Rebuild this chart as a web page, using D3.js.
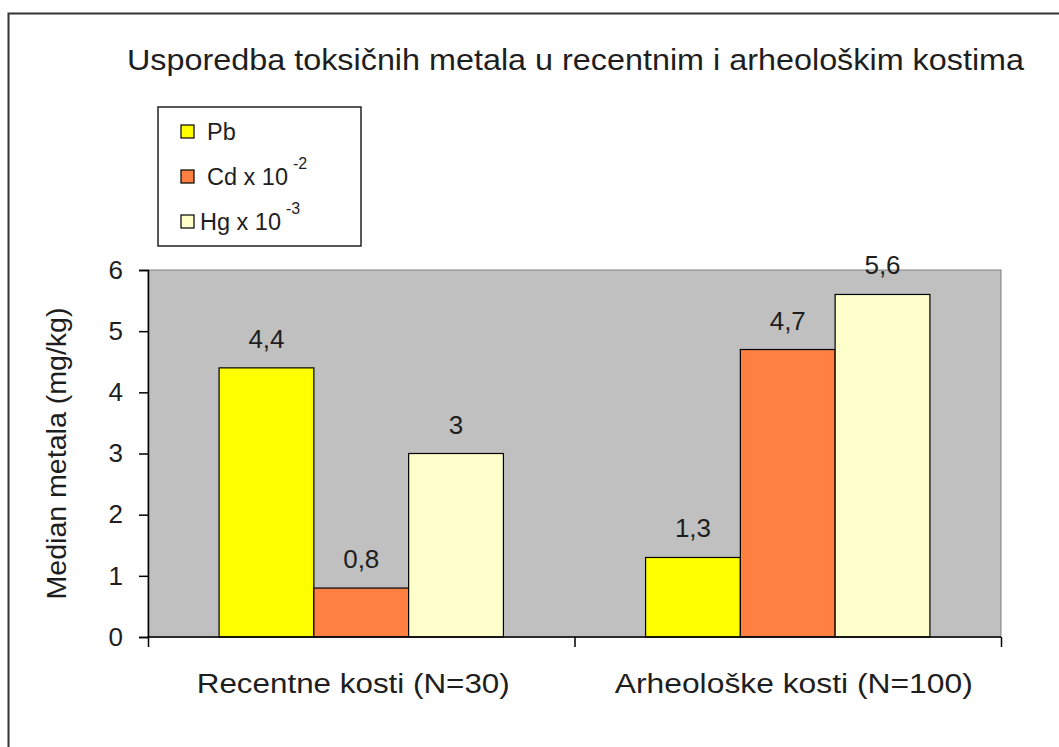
<!DOCTYPE html>
<head>
  <meta charset='utf-8'>
  <style>
      body { margin: 0; background: white; }
      text { font-family: 'Liberation Sans', Arial, sans-serif; fill: #1e1e1e; }
      .axis path, .axis line { stroke: black; stroke-width: 1.5px; }
      .axis text { font-size: 26px; fill: #1e1e1e; }
      .bar { stroke: black; stroke-width: 1.2px; }
  </style>
</head>
<body>
<script src='https://cdnjs.cloudflare.com/ajax/libs/d3/7.8.5/d3.min.js'></script>
<script>
    var
        W = 1059,
        H = 747,
        margin = {top: 270, right: 58, bottom: 110, left: 148};

    var categories = ['Recentne kosti (N=30)', 'Arheološke kosti (N=100)'],
        categoryWidths = [313, 358],
        series = ['Pb', 'Cd', 'Hg'],
        seriesLabels = [['Pb', ''], ['Cd x 10', '-2'], ['Hg x 10', '-3']],
        pb = [4.4, 1.3],
        cd = [0.8, 4.7],
        hg = [3, 5.6],
        yTicks = [0, 1, 2, 3, 4, 5, 6],
        colors = ['#ffff00', '#ff8040', '#ffffcc'];

    var values = [pb, cd, hg];

    var
        w = W - margin.left - margin.right,
        h = H - margin.top - margin.bottom,
        x0 = d3.scaleBand().domain(categories).range([0, w]),
        // gap width 150%: 3 bars + 1.5 bar gap per group
        x1 = d3.scaleBand().domain(series).range([x0.bandwidth() * 0.75 / 4.5, x0.bandwidth() * (1 - 0.75 / 4.5)]),
        y = d3.scaleLinear().domain([0, 6]).range([h, 0]);

    var svg = d3.select('body').append('svg')
        .attr('width', W)
        .attr('height', H);

    // outer frame, only top and left edges show
    svg.append('path')
        .attr('d', 'M8.5,' + H + 'V13.5H' + W)
        .attr('fill', 'none')
        .attr('stroke', '#333')
        .attr('stroke-width', 2);

    svg.append('text')
        .attr('x', 127)
        .attr('y', 70)
        .attr('textLength', 897)
        .attr('lengthAdjust', 'spacingAndGlyphs')
        .style('font-size', '30px')
        .text('Usporedba toksičnih metala u recentnim i arheološkim kostima');

    var g = svg.append('g')
        .attr('transform', 'translate(' + margin.left + ',' + margin.top + ')');

    g.append('rect')
        .attr('width', w)
        .attr('height', h)
        .attr('fill', '#c0c0c0')
        .attr('stroke', '#808080')
        .attr('stroke-width', 1);

    var groups = g.selectAll('.group')
        .data(categories)
        .enter().append('g')
        .attr('class', 'group')
        .attr('transform', function(d) { return 'translate(' + x0(d) + ',0)'; });

    groups.selectAll('rect')
        .data(function(d, i) {
            return series.map(function(s, j) { return {s: s, v: values[j][i], c: colors[j]}; });
        })
        .enter().append('rect')
        .attr('class', 'bar')
        .attr('x', function(d) { return x1(d.s); })
        .attr('width', x1.bandwidth())
        .attr('y', function(d) { return y(d.v); })
        .attr('height', function(d) { return h - y(d.v); })
        .attr('fill', function(d) { return d.c; });

    groups.selectAll('.val')
        .data(function(d, i) {
            return series.map(function(s, j) { return {s: s, v: values[j][i]}; });
        })
        .enter().append('text')
        .attr('class', 'val')
        .attr('x', function(d) { return x1(d.s) + x1.bandwidth() / 2; })
        .attr('y', function(d) { return y(d.v) - 20; })
        .attr('text-anchor', 'middle')
        .style('font-size', '26px')
        .text(function(d) { return String(d.v).replace('.', ','); });

    g.append('g')
        .attr('class', 'axis')
        .call(d3.axisLeft(y).tickValues(yTicks).tickSize(9).tickPadding(16).tickFormat(d3.format('d')));

    var xAxis = g.append('g')
        .attr('class', 'axis')
        .attr('transform', 'translate(0,' + h + ')')
        .call(d3.axisBottom(d3.scaleLinear().domain([0, 2]).range([0, w])).tickValues([0, 1, 2]).tickSize(10).tickFormat(''));
    xAxis.select('.domain').attr('d', 'M0,0H' + w);

    g.selectAll('.cat')
        .data(categories)
        .enter().append('text')
        .attr('class', 'cat')
        .attr('x', function(d, i) { return x0(d) + x0.bandwidth() / 2 - categoryWidths[i] / 2 + (i === 0 ? -8 : 6); })
        .attr('y', h + 56)
        .attr('textLength', function(d, i) { return categoryWidths[i]; })
        .attr('lengthAdjust', 'spacingAndGlyphs')
        .style('font-size', '27px')
        .text(function(d) { return d; });

    svg.append('text')
        .attr('transform', 'translate(66,' + (margin.top + h / 2) + ') rotate(-90)')
        .attr('x', -146)
        .attr('textLength', 292)
        .attr('lengthAdjust', 'spacingAndGlyphs')
        .style('font-size', '27px')
        .text('Median metala (mg/kg)');

    // legend
    var legend = svg.append('g').attr('transform', 'translate(158,107)');
    legend.append('rect')
        .attr('width', 203)
        .attr('height', 139)
        .attr('fill', 'white')
        .attr('stroke', '#222')
        .attr('stroke-width', 1.5);

    var rowY = [33, 78, 123];
    var items = legend.selectAll('.item')
        .data(seriesLabels)
        .enter().append('g')
        .attr('transform', function(d, i) { return 'translate(0,' + rowY[i] + ')'; });
    items.append('rect')
        .attr('x', 23)
        .attr('y', -15)
        .attr('width', 13)
        .attr('height', 13)
        .attr('fill', function(d, i) { return colors[i]; })
        .attr('stroke', 'black')
        .attr('stroke-width', 1.2);
    var lt = items.append('text')
        .attr('x', function(d, i) { return i === 2 ? 42 : 49; })
        .attr('y', 0)
        .style('font-size', '23.5px');
    lt.append('tspan').text(function(d) { return d[0]; });
    lt.append('tspan')
        .attr('dx', 5)
        .attr('dy', -16)
        .style('font-size', '16px')
        .text(function(d) { return d[1]; });
</script>
</body>
